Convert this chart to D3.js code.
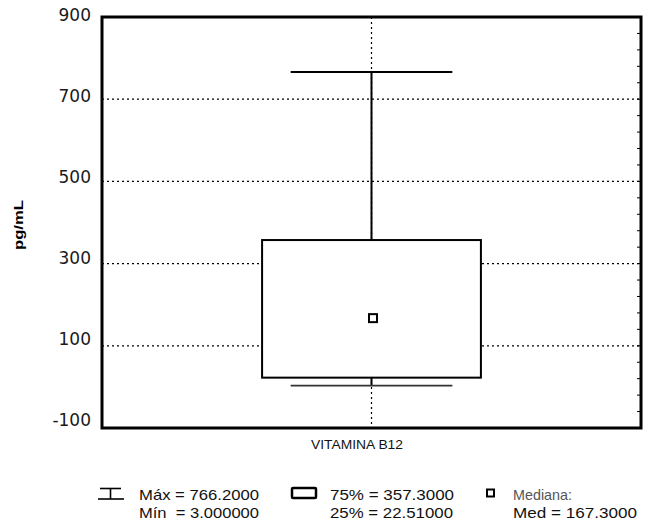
<!DOCTYPE html>
<html><head><meta charset="utf-8">
<script src="https://cdn.jsdelivr.net/npm/d3@7"></script>
<style>body{margin:0;background:#fff}svg{display:block}text{white-space:pre}</style>
</head><body>
<svg id="c" width="646" height="527"></svg>
<script>
const categories = ["VITAMINA B12"];
const minVals = [3.0];
const q1Vals = [22.51];
const medVals = [167.3];
const q3Vals = [357.3];
const maxVals = [766.2];
const yTicks = [-100, 100, 300, 500, 700, 900];
const gridTicks = [100, 300, 500, 700];
const yLabel = "pg/mL";
const legendRows = [
  ["Máx = 766.2000", "Mín  = 3.000000"],
  ["75% = 357.3000", "25% = 22.51000"],
  ["Mediana:", "Med = 167.3000"]
];

const svg = d3.select("#c");
const L = 102, R = 641, T = 17, B = 428;
const y = d3.scaleLinear().domain([-100, 900]).range([B, T]);
const yLab = d3.scaleLinear().domain([-100, 900]).range([420, 15]);
const x = d3.scaleBand().domain(categories).range([L, R]);
const W = R - L;

// grid
svg.append("g").selectAll("line").data(gridTicks).join("line")
  .attr("x1", L).attr("x2", R).attr("y1", d => y(d)).attr("y2", d => y(d))
  .attr("stroke", "#000").attr("stroke-width", 1.2).attr("stroke-dasharray", "2,3");
svg.append("g").selectAll("line").data(categories).join("line")
  .attr("x1", d => x(d) + x.bandwidth()/2).attr("x2", d => x(d) + x.bandwidth()/2)
  .attr("y1", T).attr("y2", B)
  .attr("stroke", "#000").attr("stroke-width", 1.2).attr("stroke-dasharray", "2,3");

// minor ticks on right border
svg.append("g").selectAll("line").data(d3.range(-100, 901, 40)).join("line")
  .attr("x1", R - 4).attr("x2", R).attr("y1", d => y(d)).attr("y2", d => y(d))
  .attr("stroke", "#000").attr("stroke-width", 1);

// tick labels
svg.append("g").selectAll("text").data(yTicks).join("text")
  .attr("x", 91).attr("y", d => yLab(d)).attr("dy", "0.36em")
  .attr("text-anchor", "end").attr("font-family", "DejaVu Sans").attr("font-size", 17)
  .attr("fill", "#1a1a1a").text(d => d);

// boxes
const g = svg.append("g");
categories.forEach((c, i) => {
  const cx = x(c) + x.bandwidth()/2;
  const bw = W * 0.406, cw = W * 0.30;
  g.append("line").attr("x1", cx).attr("x2", cx).attr("y1", y(maxVals[i])).attr("y2", y(q3Vals[i]))
    .attr("stroke", "#000").attr("stroke-width", 2);
  g.append("line").attr("x1", cx).attr("x2", cx).attr("y1", y(q1Vals[i])).attr("y2", y(minVals[i]))
    .attr("stroke", "#000").attr("stroke-width", 2);
  g.append("line").attr("x1", cx - cw/2).attr("x2", cx + cw/2).attr("y1", y(maxVals[i])).attr("y2", y(maxVals[i]))
    .attr("stroke", "#000").attr("stroke-width", 2);
  g.append("line").attr("x1", cx - cw/2).attr("x2", cx + cw/2).attr("y1", y(minVals[i])).attr("y2", y(minVals[i]))
    .attr("stroke", "#333").attr("stroke-width", 1.6);
  g.append("rect").attr("x", cx - bw/2).attr("width", bw)
    .attr("y", y(q3Vals[i])).attr("height", y(q1Vals[i]) - y(q3Vals[i]))
    .attr("fill", "#fff").attr("stroke", "#000").attr("stroke-width", 2);
  g.append("rect").attr("x", cx + 1.5 - 4).attr("y", y(medVals[i]) - 4).attr("width", 8).attr("height", 8)
    .attr("fill", "#fff").attr("stroke", "#000").attr("stroke-width", 2);
});

// border
svg.append("rect").attr("x", L).attr("y", T).attr("width", W).attr("height", B - T)
  .attr("fill", "none").attr("stroke", "#000").attr("stroke-width", 3);

// x label
svg.append("g").selectAll("text").data(categories).join("text")
  .attr("x", 311).attr("y", 449).attr("font-family", "Liberation Sans").attr("font-size", 12.5)
  .attr("textLength", 92).attr("lengthAdjust", "spacingAndGlyphs").attr("fill", "#111").text(d => d);

// y label
svg.append("text").attr("transform", "translate(23,225) rotate(-90)")
  .attr("text-anchor", "middle").attr("font-family", "Liberation Sans").attr("font-weight", "bold")
  .attr("font-size", 13).attr("textLength", 50).attr("lengthAdjust", "spacingAndGlyphs").text(yLabel);

// legend
const lg = svg.append("g");
// whisker icon
lg.append("line").attr("x1", 100).attr("x2", 121).attr("y1", 488.5).attr("y2", 488.5).attr("stroke", "#000").attr("stroke-width", 1.6);
lg.append("line").attr("x1", 98).attr("x2", 124).attr("y1", 499).attr("y2", 499).attr("stroke", "#000").attr("stroke-width", 1.6);
lg.append("line").attr("x1", 110.5).attr("x2", 110.5).attr("y1", 488.5).attr("y2", 499).attr("stroke", "#000").attr("stroke-width", 1.6);
// box icon
lg.append("rect").attr("x", 292).attr("y", 488).attr("width", 24).attr("height", 10).attr("rx", 1)
  .attr("fill", "#fff").attr("stroke", "#000").attr("stroke-width", 2.5);
// median icon
lg.append("rect").attr("x", 487).attr("y", 489.5).attr("width", 7).attr("height", 7)
  .attr("fill", "#fff").attr("stroke", "#000").attr("stroke-width", 2);

const lx = [139, 330, 513];
const lw = [[120, 120], [124, 123], [59, 124]];
legendRows.forEach((rows, i) => {
  rows.forEach((t, j) => {
    lg.append("text").attr("x", lx[i]).attr("y", j === 0 ? 500 : 518)
      .attr("font-family", "Liberation Sans").attr("font-size", 15)
      .attr("textLength", lw[i][j]).attr("lengthAdjust", "spacingAndGlyphs")
      .attr("fill", (i === 2 && j === 0) ? "#555" : "#111").text(t);
  });
});
</script>
</body></html>
